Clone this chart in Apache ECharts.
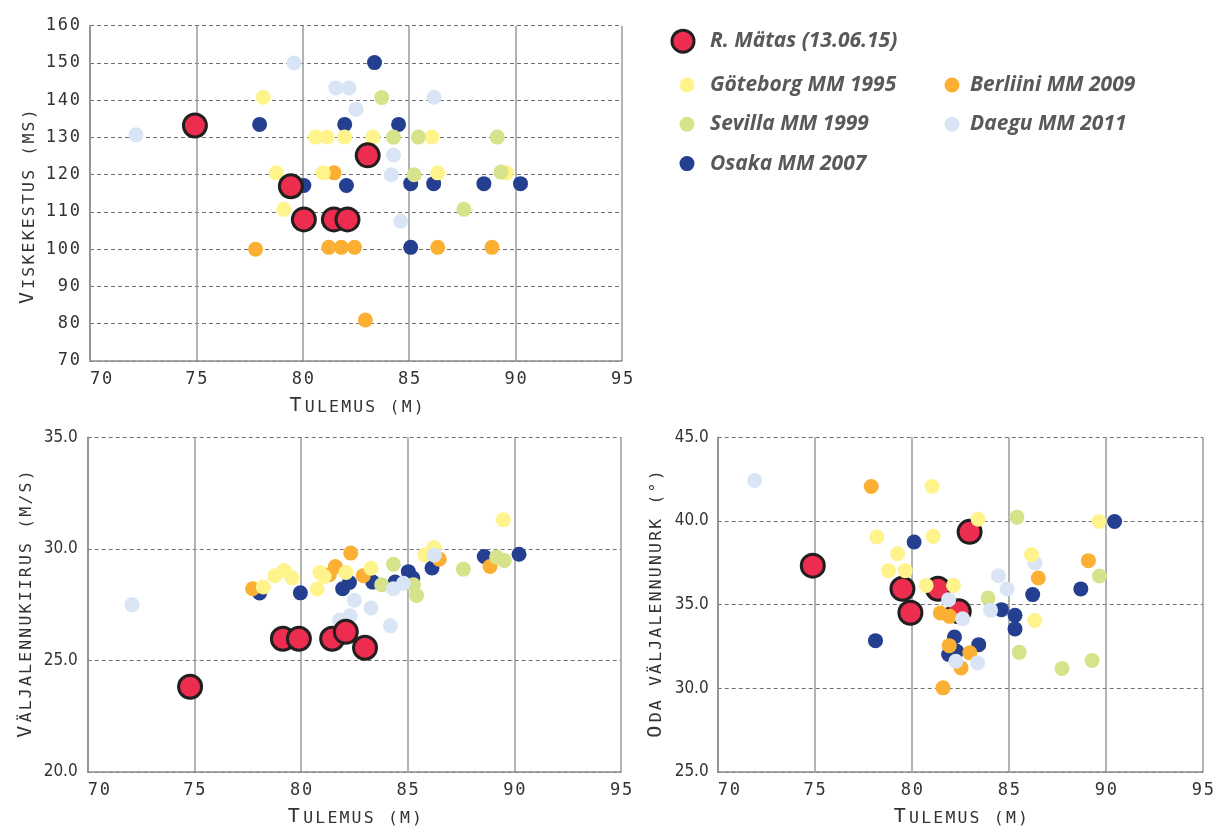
<!DOCTYPE html>
<html>
<head>
<meta charset="utf-8">
<script src="https://cdn.jsdelivr.net/npm/echarts@6/dist/echarts.min.js"></script>
<style>
  html, body { margin: 0; padding: 0; background: #ffffff; }
  #chart { width: 1217px; height: 828px; }
</style>
</head>
<body>
<div id="chart"></div>
<script>
// Series labels
const NAME_MATAS = 'R. Mätas (13.06.15)';
const NAME_GOTEBORG = 'Göteborg MM 1995';
const NAME_SEVILLA = 'Sevilla MM 1999';
const NAME_OSAKA = 'Osaka MM 2007';
const NAME_BERLIINI = 'Berliini MM 2009';
const NAME_DAEGU = 'Daegu MM 2011';

// Axis titles
const TITLE_X = 'Tulemus (m)';
const TITLE_VISKE = 'Viskekestus (ms)';
const TITLE_KIIRUS = 'Väljalennukiirus (m/s)';
const TITLE_NURK = 'Oda väljalennunurk (°)';

// Tick values
const tulemusTicks = [70, 75, 80, 85, 90, 95];
const viskeTicks = [70, 80, 90, 100, 110, 120, 130, 140, 150, 160];
const kiirusTicks = [20, 25, 30, 35];
const nurkTicks = [25, 30, 35, 40, 45];

// Throw duration (ms) vs. result (m)
const viskeMatas = [[74.93, 133.2], [79.44, 116.9], [80.05, 108.0], [81.46, 108.0], [82.1, 108.0], [83.05, 125.2]];
const viskeGoteborg = [[78.14, 140.8], [80.6, 130.1], [81.14, 130.1], [81.96, 130.1], [83.29, 130.1], [86.07, 130.1], [78.75, 120.5], [80.96, 120.5], [86.34, 120.5], [89.56, 120.5], [79.1, 110.7]];
const viskeSevilla = [[83.71, 140.7], [84.26, 130.1], [85.43, 130.1], [89.14, 130.1], [85.23, 120.0], [89.31, 120.7], [87.57, 110.7]];
const viskeOsaka = [[77.97, 133.5], [81.97, 133.5], [84.5, 133.5], [83.37, 150.1], [80.05, 117.1], [82.05, 117.1], [85.07, 117.6], [86.15, 117.6], [88.51, 117.6], [90.23, 117.6], [85.07, 100.5]];
const viskeBerliini = [[77.78, 100.0], [81.47, 120.5], [81.22, 100.5], [81.81, 100.5], [82.43, 100.5], [86.34, 100.5], [88.89, 100.5], [82.94, 81.0]];
const viskeDaegu = [[72.16, 130.7], [79.59, 150.0], [81.55, 143.3], [82.17, 143.3], [82.5, 137.6], [86.17, 140.8], [84.26, 125.3], [84.16, 120.0], [84.6, 107.5]];

// Release speed (m/s) vs. result (m)
const kiirusMatas = [[74.8, 23.82], [79.15, 25.97], [79.9, 25.97], [81.46, 25.97], [82.1, 26.28], [83.0, 25.57]];
const kiirusGoteborg = [[78.23, 28.29], [78.78, 28.8], [79.2, 29.03], [79.58, 28.7], [80.76, 28.2], [80.89, 28.94], [81.08, 28.76], [82.11, 28.94], [83.28, 29.13], [85.81, 29.73], [86.23, 30.06], [89.48, 31.3]];
const kiirusSevilla = [[83.78, 28.39], [84.33, 29.31], [85.27, 28.39], [85.42, 27.91], [87.61, 29.09], [89.17, 29.63], [89.53, 29.48]];
const kiirusOsaka = [[78.06, 28.02], [79.97, 28.03], [81.95, 28.21], [82.27, 28.49], [83.36, 28.51], [84.41, 28.51], [85.03, 28.98], [85.24, 28.69], [86.14, 29.14], [88.59, 29.66], [90.22, 29.76]];
const kiirusBerliini = [[77.73, 28.21], [81.33, 28.84], [81.61, 29.21], [82.33, 29.81], [82.92, 28.8], [86.48, 29.54], [88.86, 29.21]];
const kiirusDaegu = [[72.08, 27.49], [81.8, 26.8], [82.3, 27.0], [82.5, 27.7], [83.28, 27.35], [84.19, 26.55], [84.33, 28.21], [84.8, 28.46], [86.25, 29.73]];

// Release angle (°) vs. result (m)
const nurkMatas = [[74.9, 37.33], [79.52, 35.95], [79.93, 34.52], [81.35, 35.95], [82.42, 34.6], [82.98, 39.35]];
const nurkGoteborg = [[81.05, 42.06], [78.2, 39.04], [81.1, 39.08], [79.27, 38.04], [78.8, 37.03], [79.66, 37.03], [80.74, 36.15], [82.15, 36.15], [83.42, 40.11], [89.65, 39.97], [86.17, 37.98], [86.34, 34.05]];
const nurkSevilla = [[85.42, 40.23], [89.67, 36.71], [83.93, 35.4], [85.54, 32.15], [87.74, 31.19], [89.29, 31.67]];
const nurkOsaka = [[80.12, 38.74], [90.45, 39.97], [86.23, 35.6], [88.71, 35.94], [84.62, 34.7], [85.32, 34.36], [85.32, 33.55], [78.13, 32.85], [82.2, 33.07], [81.9, 32.02], [82.32, 32.21], [83.45, 32.61]];
const nurkBerliini = [[77.91, 42.06], [89.1, 37.63], [86.52, 36.59], [81.47, 34.5], [81.95, 34.3], [81.93, 32.55], [82.99, 32.12], [82.54, 31.22], [81.61, 30.03]];
const nurkDaegu = [[71.9, 42.42], [86.34, 37.49], [84.47, 36.73], [84.91, 35.94], [81.9, 35.3], [82.62, 34.16], [84.06, 34.66], [82.27, 31.62], [83.39, 31.52]];

// Colours
const C_MATAS = '#ed2d50';
const C_MATAS_EDGE = '#231f20';
const C_GOTEBORG = '#fff38c';
const C_SEVILLA = '#d6e38b';
const C_OSAKA = '#243f8f';
const C_BERLIINI = '#fbb034';
const C_DAEGU = '#d9e5f5';

const MONO = "'DejaVu Sans Mono', monospace";
const COND = "'DejaVu Sans Condensed', 'DejaVu Sans', sans-serif";
const INK = '#333333';

// Rich-text helpers: every character in its own fixed-width box gives tracked lettering
function spaced(str, style) {
  return String(str).split('').map(c => '{' + style + '|' + c + '}').join('');
}
function smallCaps(title) {
  return '{cap|' + title[0] + '}' + spaced(title.slice(1).toUpperCase(), 'sc');
}
const nameRich = {
  cap: { fontFamily: MONO, fontSize: 20, width: 16.5, color: INK, verticalAlign: 'bottom' },
  sc: { fontFamily: MONO, fontSize: 16.5, width: 12.1, color: INK, verticalAlign: 'bottom' }
};
const tickRich = { d: { fontFamily: MONO, fontSize: 17, width: 12, color: INK } };

const axisLineStyle = { color: '#8c8c8c', width: 1.5 };

function rangeOf(ticks) {
  return { min: ticks[0], max: ticks[ticks.length - 1], interval: ticks[1] - ticks[0] };
}

function xAxisFor(gridIndex) {
  return Object.assign({
    type: 'value',
    gridIndex: gridIndex,
    name: smallCaps(TITLE_X),
    nameLocation: 'middle',
    nameGap: 35,
    nameTextStyle: { rich: nameRich },
    axisLine: { show: true, onZero: false, lineStyle: axisLineStyle },
    axisTick: { show: false },
    axisLabel: {
      margin: 10,
      alignMinLabel: 'left',
      formatter: v => spaced(v, 'd'),
      rich: tickRich
    },
    splitLine: { show: true, lineStyle: { color: '#9a9a9a', width: 1.5, type: 'solid' } }
  }, rangeOf(tulemusTicks));
}

function yAxisFor(gridIndex, ticks, title, labelOpts, namePadding) {
  return Object.assign({
    type: 'value',
    gridIndex: gridIndex,
    name: smallCaps(title),
    nameLocation: 'middle',
    nameRotate: 90,
    nameGap: 52,
    nameTextStyle: { rich: nameRich, padding: namePadding || 0 },
    axisLine: { show: true, onZero: false, lineStyle: axisLineStyle },
    axisTick: { show: false },
    axisLabel: labelOpts,
    splitLine: { show: true, lineStyle: { color: '#707070', width: 1, type: [4, 3] } }
  }, rangeOf(ticks));
}

function dots(name, data, gridIndex, color) {
  return {
    type: 'scatter',
    name: name,
    xAxisIndex: gridIndex,
    yAxisIndex: gridIndex,
    data: data,
    symbol: 'circle',
    symbolSize: 15,
    itemStyle: { color: color, opacity: 1 },
    emphasis: { disabled: true }
  };
}
function athlete(data, gridIndex) {
  return {
    type: 'scatter',
    name: NAME_MATAS,
    xAxisIndex: gridIndex,
    yAxisIndex: gridIndex,
    data: data,
    symbol: 'circle',
    symbolSize: 23,
    itemStyle: { color: C_MATAS, borderColor: C_MATAS_EDGE, borderWidth: 3, opacity: 1 },
    emphasis: { disabled: true }
  };
}

const legendText = {
  fontFamily: '"Open Sans", Lato, sans-serif',
  fontWeight: 'bold',
  fontStyle: 'italic',
  fontSize: 21,
  lineHeight: 24,
  color: '#58595b'
};

// The legend box starts at the icon's left edge: left = centre - radius,
// itemWidth = 2 * (textStart - centre - 5)
const option = {
  animation: false,
  backgroundColor: '#ffffff',
  grid: [
    { left: 90, top: 25.7, width: 532, height: 335.3 },
    { left: 87.7, top: 437.3, width: 533.3, height: 335.1 },
    { left: 717.7, top: 437.3, width: 492.3, height: 335.3 }
  ],
  legend: [
    {
      data: [{ name: NAME_MATAS, itemStyle: { color: C_MATAS, borderColor: C_MATAS_EDGE, borderWidth: 3 } }],
      left: 670.5, top: 28.7, padding: 0,
      icon: 'circle', itemWidth: 44, itemHeight: 22,
      textStyle: legendText, selectedMode: false
    },
    {
      data: [NAME_GOTEBORG, NAME_SEVILLA, NAME_OSAKA],
      orient: 'vertical', left: 679.5, top: 73, padding: 0,
      icon: 'circle', itemWidth: 36, itemHeight: 15, itemGap: 15.3,
      itemStyle: { borderWidth: 0 },
      textStyle: legendText, selectedMode: false
    },
    {
      data: [NAME_BERLIINI, NAME_DAEGU],
      orient: 'vertical', left: 944.5, top: 73, padding: 0,
      icon: 'circle', itemWidth: 26, itemHeight: 15, itemGap: 15.3,
      itemStyle: { borderWidth: 0 },
      textStyle: legendText, selectedMode: false
    }
  ],
  xAxis: [xAxisFor(0), xAxisFor(1), xAxisFor(2)],
  yAxis: [
    yAxisFor(0, viskeTicks, TITLE_VISKE,
      { margin: 10, formatter: v => spaced(v, 'd'), rich: tickRich }, [0, 28, 0, 0]),
    yAxisFor(1, kiirusTicks, TITLE_KIIRUS,
      { margin: 10, fontFamily: COND, fontSize: 17, color: INK, formatter: v => v.toFixed(1) }),
    yAxisFor(2, nurkTicks, TITLE_NURK,
      { margin: 9, fontFamily: COND, fontSize: 17, color: INK, formatter: v => v.toFixed(1) })
  ],
  series: [
    // Viskekestus
    dots(NAME_OSAKA, viskeOsaka, 0, C_OSAKA),
    dots(NAME_BERLIINI, viskeBerliini, 0, C_BERLIINI),
    dots(NAME_GOTEBORG, viskeGoteborg, 0, C_GOTEBORG),
    dots(NAME_SEVILLA, viskeSevilla, 0, C_SEVILLA),
    dots(NAME_DAEGU, viskeDaegu, 0, C_DAEGU),
    athlete(viskeMatas, 0),
    // Väljalennukiirus
    dots(NAME_OSAKA, kiirusOsaka, 1, C_OSAKA),
    dots(NAME_BERLIINI, kiirusBerliini, 1, C_BERLIINI),
    dots(NAME_GOTEBORG, kiirusGoteborg, 1, C_GOTEBORG),
    dots(NAME_SEVILLA, kiirusSevilla, 1, C_SEVILLA),
    dots(NAME_DAEGU, kiirusDaegu, 1, C_DAEGU),
    athlete(kiirusMatas, 1),
    // Oda väljalennunurk
    athlete(nurkMatas, 2),
    dots(NAME_OSAKA, nurkOsaka, 2, C_OSAKA),
    dots(NAME_BERLIINI, nurkBerliini, 2, C_BERLIINI),
    dots(NAME_SEVILLA, nurkSevilla, 2, C_SEVILLA),
    dots(NAME_DAEGU, nurkDaegu, 2, C_DAEGU),
    dots(NAME_GOTEBORG, nurkGoteborg, 2, C_GOTEBORG)
  ]
};

const chart = echarts.init(document.getElementById('chart'), null, { renderer: 'canvas' });
chart.setOption(option);
</script>
</body>
</html>
